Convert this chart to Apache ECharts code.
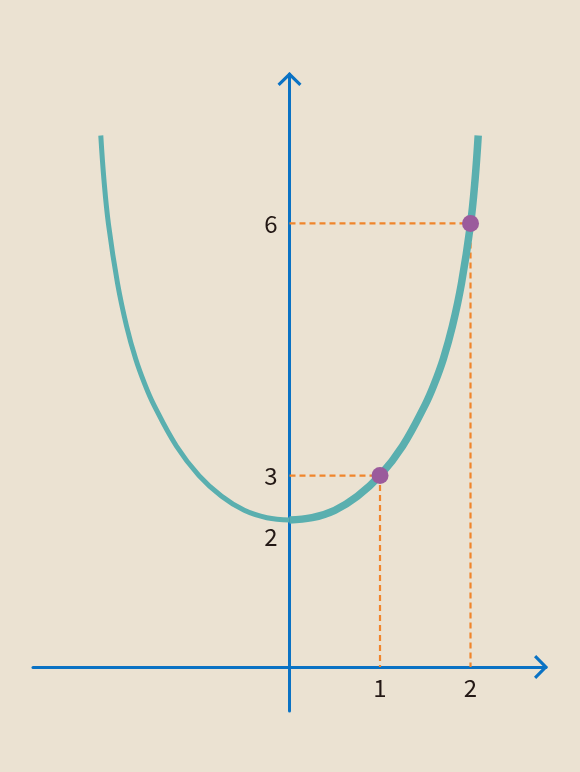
<!DOCTYPE html>
<html>
<head>
<meta charset="utf-8">
<script src="https://cdn.jsdelivr.net/npm/echarts@6/dist/echarts.min.js"></script>
<style>
html,body{margin:0;padding:0;background:#ebe2d2;}
#chart{width:580px;height:772px;}
</style>
</head>
<body>
<div id="chart"></div>
<script>
// Curve (y in the picture's own vertical units; the drawing is schematic)
const curveLeft = [
  [-2.085, 7.19], [-2.05, 6.59], [-2.0, 5.99], [-1.9, 5.19], [-1.8, 4.61], [-1.7, 4.17],
  [-1.6, 3.83], [-1.5, 3.55], [-1.25, 2.99], [-1.0, 2.59], [-0.75, 2.31],
  [-0.5, 2.12], [-0.25, 2.02], [0, 1.99]
];
const curveRight = [
  [0, 1.99], [0.25, 2.02], [0.5, 2.12], [0.75, 2.31], [1.0, 2.59], [1.25, 2.99],
  [1.5, 3.55], [1.6, 3.83], [1.7, 4.17], [1.8, 4.61], [1.9, 5.19], [2.0, 5.99],
  [2.05, 6.59], [2.085, 7.19]
];
// Marked points (x, picture-height)
const markedPoints = [[1, 2.59], [2, 6.0]];
// Tick labels
const xTickValues = [1, 2];
const xTickLabels = ['1', '2'];
const yTickValues = [1.76, 2.59, 6.0];
const yTickLabels = ['2', '3', '6'];

function guideLine(p) {
  return [[0, p[1]], [p[0], p[1]], [p[0], 0]];
}
function nearestLabel(values, labels, v) {
  let best = 0, d = Infinity;
  values.forEach((t, i) => { const dd = Math.abs(t - v); if (dd < d) { d = dd; best = i; } });
  return labels[best];
}

const axisBlue = '#0a72c4';
const arrowPath = 'path://M12 0 L24 11.8 L21.8 14 L12 4.4 L2.2 14 L0 11.8 Z';
const labelFont = {
  fontFamily: '"Noto Sans CJK JP", "Noto Sans", sans-serif',
  fontSize: 24,
  color: '#231815'
};

const chart = echarts.init(document.getElementById('chart'), null, {renderer: 'canvas'});
chart.setOption({
  backgroundColor: '#ebe2d2',
  animation: false,
  grid: {left: 33, right: 34, top: 74, bottom: 61, containLabel: false},
  xAxis: {
    type: 'value', min: -2.834, max: 2.834,
    position: 'bottom', offset: -44,
    splitLine: {show: false},
    axisTick: {show: false},
    axisLine: {
      show: true, onZero: false,
      lineStyle: {color: axisBlue, width: 3},
      symbol: ['none', arrowPath], symbolSize: [24, 14], symbolOffset: [0, -5]
    },
    axisLabel: Object.assign({
      show: true, margin: 9,
      customValues: xTickValues,
      formatter: v => nearestLabel(xTickValues, xTickLabels, v)
    }, labelFont)
  },
  yAxis: {
    type: 'value', min: -0.595, max: 8.022,
    position: 'left', offset: -256.5,
    splitLine: {show: false},
    axisTick: {show: false},
    axisLine: {
      show: true, onZero: false,
      lineStyle: {color: axisBlue, width: 3},
      symbol: ['none', arrowPath], symbolSize: [24, 14], symbolOffset: [0, -5]
    },
    axisLabel: Object.assign({
      show: true, margin: 12,
      customValues: yTickValues,
      formatter: v => nearestLabel(yTickValues, yTickLabels, v)
    }, labelFont)
  },
  series: [
    ...markedPoints.map(p => ({
      type: 'line', data: guideLine(p), symbol: 'none', silent: true, z: 2,
      lineStyle: {color: '#f0852c', width: 2.2, type: [6, 4]}
    })),
    {
      type: 'line', data: curveLeft, smooth: 0.4, symbol: 'none', z: 3,
      lineStyle: {color: '#5aafaf', width: 5, cap: 'butt'}
    },
    {
      type: 'line', data: curveRight, smooth: 0.4, symbol: 'none', z: 3,
      lineStyle: {color: '#5aafaf', width: 7.5, cap: 'butt'}
    },
    {
      type: 'scatter', data: markedPoints, symbol: 'circle', symbolSize: 17, z: 5,
      itemStyle: {color: '#9b5b9c', opacity: 1}
    }
  ]
});
</script>
</body>
</html>
